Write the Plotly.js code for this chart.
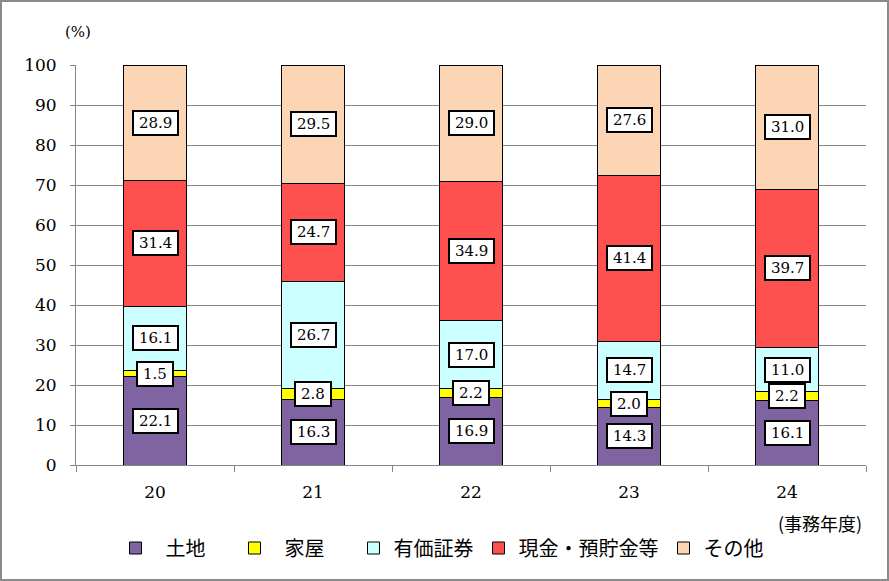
<!DOCTYPE html>
<html><head><meta charset="utf-8">
<script src="https://cdn.plot.ly/plotly-3.0.1.min.js"></script>
<style>
html,body{margin:0;padding:0;background:#fff;}
#chart{width:885px;height:577px;border:2px solid #8a8a8a;}
</style></head>
<body><div id="chart"></div>
<script>
const years = ['20','21','22','23','24'];
const seriesNames = ['\u2002土地　\u2009','\u2002家屋　\u2009','有価証券','現金・預貯金等','その他'];
const land = [22.1, 16.3, 16.9, 14.3, 16.1];
const house = [1.5, 2.8, 2.2, 2.0, 2.2];
const securities = [16.1, 26.7, 17.0, 14.7, 11.0];
const cash = [31.4, 24.7, 34.9, 41.4, 39.7];
const other = [28.9, 29.5, 29.0, 27.6, 31.0];
const colors = ['#8064A2','#FFFF00','#CCFFFF','#FF5050','#FCD5B5'];
const yTicks = [0,10,20,30,40,50,60,70,80,90,100];

const NUMFONT = '"DejaVu Serif", serif';
const JFONT = '"Noto Sans CJK JP", sans-serif';
const series = [land, house, securities, cash, other];

const traces = series.map((vals, i) => ({
  type: 'bar', x: years, y: vals, name: seriesNames[i],
  marker: {color: colors[i], line: {color: '#000', width: 1}},
  width: 0.4, hoverinfo: 'skip'
}));

const annotations = [];
const cum = years.map(() => 0);
series.forEach((vals) => {
  vals.forEach((v, j) => {
    annotations.push({
      x: j, y: cum[j] + v / 2, xref: 'x', yref: 'y',
      text: '\u2009' + v.toFixed(1) + '\u2009', showarrow: false,
      font: {family: NUMFONT, size: 15, color: '#000'},
      bgcolor: '#fff', bordercolor: '#000', borderwidth: 2, borderpad: 2
    });
    cum[j] += v;
  });
});
annotations.push({xref: 'paper', yref: 'paper', x: 0.002, y: 1.0825, xanchor: 'center', yanchor: 'middle',
  text: '(%)', showarrow: false, font: {family: NUMFONT, size: 15, color: '#000'}});
annotations.push({xref: 'paper', yref: 'paper', x: 0.998, y: -0.145, xanchor: 'right', yanchor: 'middle',
  text: '(事務年度)', showarrow: false, font: {family: JFONT, size: 18, color: '#000'}});

const layout = {
  width: 885, height: 577,
  margin: {l: 74, r: 21, t: 63, b: 114},
  barmode: 'stack',
  paper_bgcolor: '#fff', plot_bgcolor: '#fff',
  font: {family: NUMFONT, color: '#000'},
  showlegend: true,
  legend: {orientation: 'h', x: 0.050, y: -0.2075, xanchor: 'left', yanchor: 'middle',
    font: {family: JFONT, size: 20, color: '#000'}, traceorder: 'normal', itemwidth: 30},
  xaxis: {type: 'category', range: [-0.5, 4.5], tickson: 'boundaries', ticks: 'outside', ticklen: 6, tickcolor: '#868686',
    showline: true, linecolor: '#868686', linewidth: 1, showgrid: false, ticklabelstandoff: 12,
    tickfont: {family: NUMFONT, size: 17}, fixedrange: true},
  yaxis: {range: [0, 100], tickvals: yTicks, ticks: 'outside', ticklen: 5, tickcolor: '#868686',
    showline: true, linecolor: '#868686', linewidth: 1, gridcolor: '#868686', gridwidth: 1,
    zeroline: false, ticklabelstandoff: 10, tickfont: {family: NUMFONT, size: 17}, fixedrange: true},
  annotations: annotations
};
Plotly.newPlot('chart', traces, layout, {displayModeBar: false, staticPlot: true});
</script></body></html>
